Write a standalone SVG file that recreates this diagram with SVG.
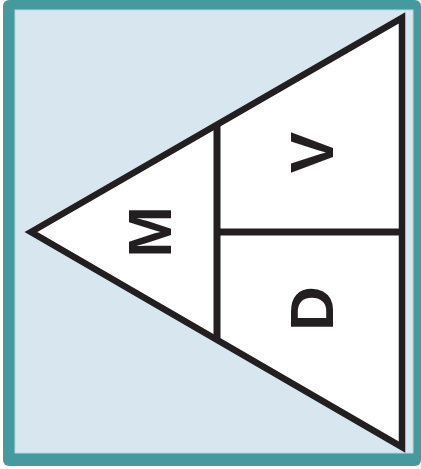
<svg xmlns="http://www.w3.org/2000/svg" width="421" height="469" viewBox="0 0 421 469">
<style>
.ln{stroke:#231f20;fill:none;}
.tri{stroke:#231f20;fill:#ffffff;}
.lbl{font-family:"Liberation Sans",Arial,sans-serif;font-weight:bold;font-size:62px;fill:#231f20;text-anchor:middle;}
</style>
<g id="frame">
<rect x="3" y="0" width="418" height="466" rx="6" fill="#459aa0"/>
<rect x="15" y="10" width="398" height="443" fill="#d8e6ef" stroke="#b9d6dc" stroke-width="1"/>
</g>
<g id="triangle">
<polygon points="31,232 402,18 402,447" class="tri" stroke-width="6.5" stroke-miterlimit="10"/>
</g>
<g id="connectors">
<line class="ln" x1="217" y1="124" x2="217" y2="340" stroke-width="7" stroke="#000000"/>
<line class="ln" x1="217" y1="232" x2="402" y2="232" stroke-width="7"/>
</g>
<g id="node-M"><text class="lbl" transform="translate(171,232) rotate(-90)">M</text></g>
<g id="node-V"><text class="lbl" transform="translate(333,152.5) rotate(-90)">V</text></g>
<g id="node-D"><text class="lbl" transform="translate(333,308.5) rotate(-90)">D</text></g>
</svg>
